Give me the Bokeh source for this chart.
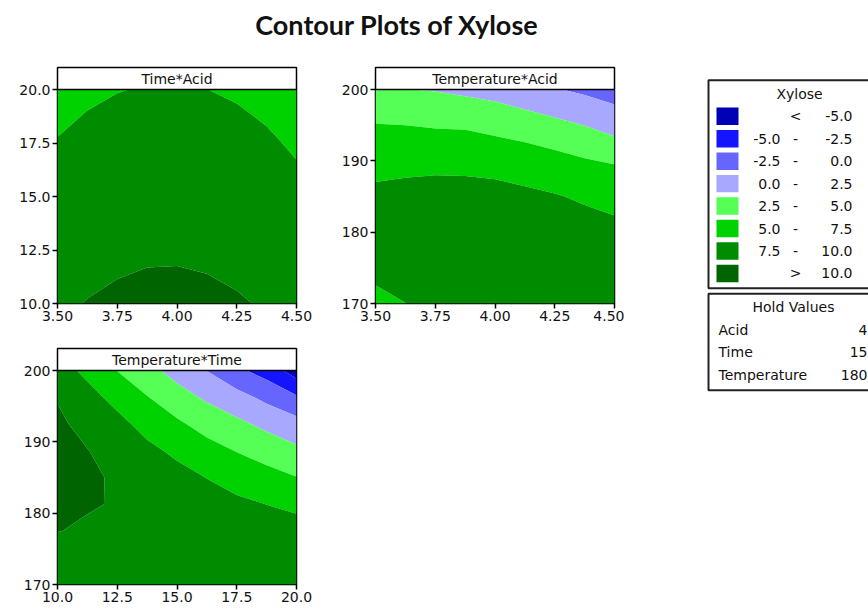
import numpy as np
from bokeh.plotting import figure
from bokeh.layouts import column, row
from bokeh.models import Range1d, FixedTicker, NumeralTickFormatter, Span
from bokeh.core.properties import value
from bokeh.embed import file_html
from bokeh.resources import INLINE

# ---------------- data ----------------
TITLE = "Contour Plots of Xylose"
RESPONSE = "Xylose"
ACID = [3.5, 3.625, 3.75, 3.875, 4.0, 4.125, 4.25, 4.375, 4.5]
TIME = [10.0, 11.25, 12.5, 13.75, 15.0, 16.25, 17.5, 18.75, 20.0]
TEMP = [170.0, 173.75, 177.5, 181.25, 185.0, 188.75, 192.5, 196.25, 200.0]

# Xylose, rows = Time, columns = Acid (Temperature held at 180)
Z_TIME_ACID = [
    [9.67, 10.07, 10.34, 10.49, 10.51, 10.41, 10.18, 9.83, 9.35],
    [9.30, 9.70, 9.97, 10.12, 10.14, 10.04, 9.81, 9.46, 8.98],
    [8.95, 9.35, 9.62, 9.77, 9.79, 9.69, 9.46, 9.11, 8.63],
    [8.61, 9.01, 9.28, 9.43, 9.45, 9.35, 9.12, 8.77, 8.29],
    [8.28, 8.68, 8.95, 9.10, 9.12, 9.02, 8.79, 8.44, 7.96],
    [7.95, 8.35, 8.62, 8.77, 8.79, 8.69, 8.46, 8.11, 7.63],
    [7.59, 7.99, 8.26, 8.41, 8.43, 8.33, 8.10, 7.75, 7.27],
    [7.19, 7.59, 7.86, 8.01, 8.03, 7.93, 7.70, 7.35, 6.87],
    [6.77, 7.17, 7.44, 7.59, 7.61, 7.51, 7.28, 6.93, 6.45],
]
# rows = Temperature, columns = Acid (Time held at 15)
Z_TEMP_ACID = [
    [6.95, 7.48, 7.85, 8.20, 8.40, 8.35, 8.10, 7.75, 7.55],
    [7.76, 8.15, 8.45, 8.75, 8.90, 8.85, 8.60, 8.25, 7.95],
    [8.19, 8.50, 8.80, 9.05, 9.15, 9.05, 8.80, 8.45, 8.05],
    [8.23, 8.55, 8.85, 9.05, 9.10, 8.85, 8.55, 8.15, 7.75],
    [7.89, 8.20, 8.45, 8.50, 8.40, 8.05, 7.65, 7.20, 6.90],
    [7.17, 7.20, 7.25, 7.20, 7.00, 6.60, 6.30, 5.80, 5.50],
    [6.07, 6.00, 5.90, 5.90, 5.50, 5.05, 4.55, 3.95, 3.00],
    [4.58, 4.50, 4.25, 4.10, 3.60, 3.05, 2.40, 1.70, 1.00],
    [2.71, 2.55, 2.35, 1.95, 1.60, 0.90, 0.15, -0.45, -1.30],
]
# rows = Temperature, columns = Time (Acid held at 4)
Z_TEMP_TIME = [
    [7.45, 7.90, 8.20, 8.50, 8.60, 8.90, 9.25, 9.60, 10.05],
    [8.80, 8.85, 8.90, 8.95, 9.00, 9.05, 9.20, 9.35, 9.50],
    [10.05, 9.75, 9.50, 9.30, 9.15, 9.00, 8.85, 8.65, 8.40],
    [10.55, 10.15, 9.88, 9.45, 9.05, 8.50, 8.00, 7.48, 7.00],
    [10.60, 10.20, 9.85, 9.10, 8.35, 7.45, 6.55, 5.85, 5.05],
    [10.50, 10.05, 9.30, 8.10, 7.00, 5.90, 4.90, 4.00, 3.00],
    [10.30, 9.50, 8.25, 6.65, 5.40, 4.10, 3.05, 1.90, 0.90],
    [9.90, 8.40, 6.70, 5.10, 3.55, 2.10, 0.85, -0.60, -2.20],
    [8.60, 6.90, 4.95, 3.30, 1.55, -0.05, -2.00, -3.50, -6.20],
]

LEVELS = [-5.0, -2.5, 0.0, 2.5, 5.0, 7.5, 10.0]
COLORS = ["#0000B4", "#1414FF", "#6666FF", "#A8A8FF",
          "#55FF55", "#00D200", "#008C00", "#006400"]

ACID_TICKS = [3.5, 3.75, 4.0, 4.25, 4.5]
TIME_TICKS = [10.0, 12.5, 15.0, 17.5, 20.0]
TEMP_TICKS = [170, 180, 190, 200]

HOLD_NAMES = ["Acid", "Time", "Temperature"]
HOLD_VALUES = ["4", "15", "180"]

FONT = "DejaVu Sans"
TICK_SIZE = "14px"
TEXT_SIZE = "14px"
TXT = "#111111"


def panel(xs, ys, z, xticks, yticks, xfmt, yfmt, title,
          width, height, mbl, mbr, mbt, mbb):
    ylo, yhi = ys[0], ys[-1]
    extra = (yhi - ylo) * 22.0 / 214.0
    p = figure(width=width, height=height,
               x_range=Range1d(xs[0], xs[-1]),
               y_range=Range1d(ylo, yhi + extra),
               toolbar_location=None, output_backend="svg",
               min_border_left=mbl, min_border_right=mbr,
               min_border_top=mbt, min_border_bottom=mbb)
    p.contour(x=xs, y=ys, z=np.array(z, dtype=float),
              levels=[-1000.0] + LEVELS + [1000.0], fill_color=COLORS)
    p.add_layout(Span(location=yhi, dimension="width",
                      line_color="black", line_width=1.5))
    p.text(x=[(xs[0] + xs[-1]) / 2.0], y=[yhi + extra / 2.0], text=[title],
           text_align="center", text_baseline="middle",
           text_font=value(FONT), text_font_size=TEXT_SIZE, text_color=TXT)
    p.outline_line_color = "black"
    p.outline_line_width = 1.5
    p.outline_line_alpha = 1.0
    p.xgrid.visible = False
    p.ygrid.visible = False
    p.xaxis.ticker = FixedTicker(ticks=xticks, minor_ticks=[])
    p.yaxis.ticker = FixedTicker(ticks=yticks, minor_ticks=[])
    p.xaxis.formatter = NumeralTickFormatter(format=xfmt)
    p.yaxis.formatter = NumeralTickFormatter(format=yfmt)
    for ax in (p.xaxis[0], p.yaxis[0]):
        ax.axis_line_color = None
        ax.major_tick_in = 0
        ax.major_tick_out = 5
        ax.major_tick_line_color = "black"
        ax.major_tick_line_width = 1.5
        ax.minor_tick_line_color = None
        ax.major_label_text_font = FONT
        ax.major_label_text_font_size = TICK_SIZE
        ax.major_label_text_color = TXT
        ax.major_label_standoff = 2
    p.background_fill_color = "white"
    p.border_fill_color = "white"
    return p


# title strip (page coordinates)
tf = figure(width=868, height=52, x_range=Range1d(0, 868), y_range=Range1d(52, 0),
            toolbar_location=None, output_backend="svg",
            x_axis_location=None, y_axis_location=None,
            min_border_left=0, min_border_right=0, min_border_top=0, min_border_bottom=0)
tf.grid.visible = False
tf.outline_line_color = None
tf.text(x=[396.5], y=[24], text=[TITLE], text_align="center", text_baseline="middle",
        text_font=value("Lato"), text_font_style="bold", text_font_size="27px",
        text_color="#111111")

p1 = panel(ACID, TIME, Z_TIME_ACID, ACID_TICKS, TIME_TICKS, "0.00", "0.0",
           "Time*Acid", 338, 281, 57, 42, 15, 30)
p3 = panel(TIME, TEMP, Z_TEMP_TIME, TIME_TICKS, TEMP_TICKS, "0.0", "0",
           "Temperature*Time", 338, 278, 57, 42, 15, 27)
p2 = panel(ACID, TEMP, Z_TEMP_ACID, ACID_TICKS, TEMP_TICKS, "0.00", "0",
           "Temperature*Acid", 286, 281, 37, 10, 15, 30)

# legend strip (page coordinates)
lg = figure(width=244, height=559, x_range=Range1d(624, 868), y_range=Range1d(611, 52),
            toolbar_location=None, output_backend="svg",
            x_axis_location=None, y_axis_location=None,
            min_border_left=0, min_border_right=0, min_border_top=0, min_border_bottom=0)
lg.grid.visible = False
lg.outline_line_color = None

lg.quad(left=[708], right=[900], top=[66], bottom=[292], fill_color=None,
        line_color="#222222", line_width=2)
lg.text(x=[799], y=[81], text=[RESPONSE], text_align="center", text_baseline="middle",
        text_font=value(FONT), text_font_size=TEXT_SIZE, text_color=TXT)

n = len(COLORS)
row_y = [105 + i * 24.43 for i in range(n)]
lg.quad(left=[716] * n, right=[738] * n,
        top=[y - 9.5 for y in row_y], bottom=[y + 9.5 for y in row_y],
        fill_color=COLORS, line_color=None)

low_txt, mid_txt, high_txt = [], [], []
for i in range(n):
    if i == 0:
        low_txt.append(""); mid_txt.append("<"); high_txt.append(f"{LEVELS[0]:.1f}")
    elif i == n - 1:
        low_txt.append(""); mid_txt.append(">"); high_txt.append(f"{LEVELS[-1]:.1f}")
    else:
        low_txt.append(f"{LEVELS[i-1]:.1f}"); mid_txt.append("-"); high_txt.append(f"{LEVELS[i]:.1f}")

lg.text(x=[780] * n, y=row_y, text=low_txt, text_align="right", text_baseline="middle",
        text_font=value(FONT), text_font_size=TEXT_SIZE, text_color=TXT)
lg.text(x=[795] * n, y=row_y, text=mid_txt, text_align="center", text_baseline="middle",
        text_font=value(FONT), text_font_size=TEXT_SIZE, text_color=TXT)
lg.text(x=[852] * n, y=row_y, text=high_txt, text_align="right", text_baseline="middle",
        text_font=value(FONT), text_font_size=TEXT_SIZE, text_color=TXT)

lg.quad(left=[708], right=[900], top=[298], bottom=[403], fill_color=None,
        line_color="#222222", line_width=2)
lg.text(x=[793], y=[313], text=["Hold Values"], text_align="center", text_baseline="middle",
        text_font=value(FONT), text_font_size=TEXT_SIZE, text_color=TXT)
hold_y = [338, 361, 386]
lg.text(x=[718] * 3, y=hold_y, text=HOLD_NAMES, text_align="left", text_baseline="middle",
        text_font=value(FONT), text_font_size=TEXT_SIZE, text_color=TXT)
lg.text(x=[867] * 3, y=hold_y, text=HOLD_VALUES, text_align="right", text_baseline="middle",
        text_font=value(FONT), text_font_size=TEXT_SIZE, text_color=TXT)

layout = column(tf, row(column(p1, p3), p2, lg))

open("out.html", "w").write(file_html(layout, INLINE))
